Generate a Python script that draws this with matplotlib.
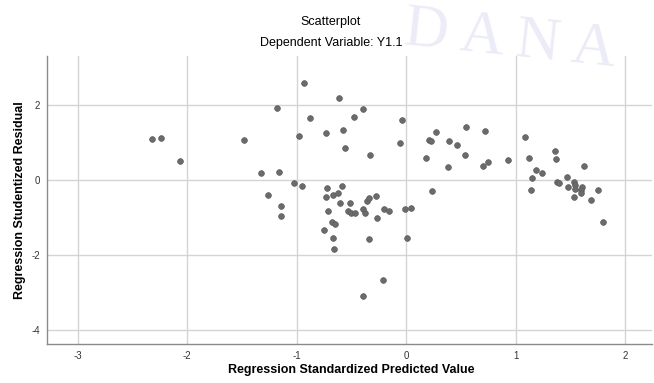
import numpy as np
from matplotlib import pyplot as plt

plt.rcParams['font.family'] = ['Liberation Sans', 'DejaVu Sans']
plt.rcParams['axes.unicode_minus'] = False

# standardized predicted value (x) and studentized residual (y)
pred = np.array([
    -2.32, -2.24, -2.07, -1.48, -1.33, -1.16, -1.18, -0.93, -0.88, -0.98,
    -0.73, -0.61, -0.58, -0.56, -0.48, -1.26, -1.14, -1.14, -1.02, -0.95,
    -0.39, -0.33, -0.04, -0.06, 0.18, 0.21, 0.23, 0.27, 0.24, 0.38,
    0.39, 0.46, 0.55, 0.54, 0.72, 0.70, 0.75, 0.93, 1.09, 1.12,
    1.15, 1.19, 1.24, 1.14, 1.36, 1.37, 1.38, 1.40, 1.47, 1.48,
    1.53, 1.54, 1.54, 1.53, 1.61, 1.60, 1.60, 1.62, 1.69, 1.75,
    1.80, -0.72, -0.73, -0.67, -0.62, -0.59, -0.60, -0.71, -0.51, -0.53,
    -0.50, -0.47, -0.39, -0.38, -0.36, -0.34, -0.28, -0.27, -0.20, -0.16,
    -0.01, 0.04, -0.68, -0.65, -0.75, -0.67, -0.66, -0.34, 0.01, -0.21,
    -0.39,
])
resid = np.array([
    1.10, 1.13, 0.52, 1.08, 0.19, 0.21, 1.93, 2.59, 1.67, 1.18,
    1.26, 2.19, 1.34, 0.86, 1.68, -0.40, -0.69, -0.95, -0.08, -0.16,
    1.91, 0.67, 1.62, 1.00, 0.59, 1.07, 1.05, 1.30, -0.29, 0.34,
    1.06, 0.95, 1.42, 0.66, 1.32, 0.37, 0.49, 0.53, 1.16, 0.60,
    0.07, 0.28, 0.20, -0.27, 0.79, 0.56, -0.05, -0.07, 0.08, -0.17,
    -0.06, -0.13, -0.23, -0.46, -0.19, -0.26, -0.35, 0.38, -0.53, -0.27,
    -1.12, -0.21, -0.44, -0.40, -0.35, -0.16, -0.61, -0.82, -0.60, -0.81,
    -0.88, -0.89, -0.76, -0.87, -0.55, -0.48, -0.43, -1.02, -0.77, -0.82,
    -0.78, -0.74, -1.12, -1.16, -1.32, -1.55, -1.84, -1.57, -1.55, -2.67,
    -3.10,
])

x_ticks = [-3, -2, -1, 0, 1, 2]
y_ticks = [-4, -2, 0, 2]

fig = plt.figure(figsize=(6.54, 3.83), dpi=100)

# faint seal watermark behind the chart
fig.text(0.78, 0.895, 'D A N A', fontsize=44, family='Liberation Serif',
         color='#ececf8', ha='center', va='center', rotation=-6, zorder=0)

ax = fig.add_axes([0.072, 0.101, 0.925, 0.753])
ax.set_facecolor('none')

ax.scatter(pred, resid, s=17, c='#6b6b6b', edgecolors='#5e5e5e',
           linewidths=0.5, zorder=3)

ax.set_xlim(-3.28, 2.246)
ax.set_ylim(-4.385, 3.32)
ax.set_xticks(x_ticks)
ax.set_yticks(y_ticks)
ax.grid(True, color='#d4d4d4', linewidth=1.0, zorder=0)
ax.tick_params(length=0, labelsize=7, colors='#333333', pad=5)

for side in ['top', 'right']:
    ax.spines[side].set_visible(False)
for side in ['left', 'bottom']:
    ax.spines[side].set_color('#8a8a8a')
    ax.spines[side].set_linewidth(1.0)

fig.text(0.537, 0.034, 'Regression Standardized Predicted Value', fontsize=9,
         fontweight='bold', ha='center', va='center')
fig.text(0.031, 0.478, 'Regression Studentized Residual', fontsize=9,
         fontweight='bold', ha='center', va='center', rotation=90)

fig.text(0.506, 0.943, 'Scatterplot', fontsize=9, ha='center', va='center')
fig.text(0.506, 0.888, 'Dependent Variable: Y1.1', fontsize=9,
         ha='center', va='center')

fig.savefig('out.png', dpi=100)
